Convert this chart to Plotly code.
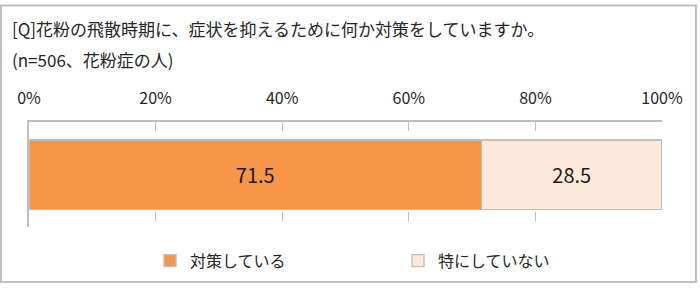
import plotly.graph_objects as go

categories = [""]
series_names = ["対策している", "特にしていない"]
series_values = [[71.5], [28.5]]
series_colors = ["#F79646", "#FDE9D9"]
tick_vals = [0, 20, 40, 60, 80, 100]
tick_text = ["0%", "20%", "40%", "60%", "80%", "100%"]
title_lines = ["[Q]花粉の飛散時期に、症状を抑えるために何か対策をしていますか。", "(n=506、花粉症の人)"]

FONT = "Noto Sans CJK JP, Meiryo, sans-serif"
W, H = 700, 290
L, R, T, B = 29, 38, 122, 59
pw, ph = W - L - R, H - T - B

fig = go.Figure()
for name, vals, col in zip(series_names, series_values, series_colors):
    fig.add_trace(go.Bar(
        y=categories, x=vals, name=name, orientation="h",
        marker=dict(color=col, line=dict(color="#BFBFBF", width=1.3)),
        text=[f"{v:.1f}" for v in vals], textposition="inside",
        insidetextanchor="middle",
        textfont=dict(family=FONT, size=20, color="#1a1a1a"),
        width=0.66,
    ))

fig.update_layout(
    width=W, height=H, barmode="stack",
    margin=dict(l=L, r=R, t=T, b=B, pad=0),
    paper_bgcolor="white", plot_bgcolor="white",
    font=dict(family=FONT, color="#262626"),
    showlegend=True,
    legend=dict(orientation="h", x=(150 - L) / pw, xanchor="left",
                y=-(266 - T - ph) / ph, yanchor="middle",
                bgcolor="rgba(0,0,0,0)",
                font=dict(family=FONT, size=16, color="#262626"),
                entrywidth=203, entrywidthmode="pixels",
                itemwidth=30, traceorder="normal"),
    xaxis=dict(range=[0, 100], side="top", tickvals=tick_vals, ticktext=tick_text,
               showgrid=True, gridcolor="#BFBFBF", griddash="dash", gridwidth=1,
               showline=True, linecolor="#BFBFBF", linewidth=1.5,
               zeroline=False, ticks="", ticklabelstandoff=10,
               tickfont=dict(family=FONT, size=16, color="#262626"),
               fixedrange=True),
    yaxis=dict(range=[-0.5, 0.5], showline=True, linecolor="#BFBFBF", linewidth=1.5,
               showgrid=False, zeroline=False, showticklabels=False, fixedrange=True),
)

# title as annotations (two lines)
for i, line in enumerate(title_lines):
    fig.add_annotation(text=line, xref="paper", yref="paper",
                       x=(10 - L) / pw, xanchor="left",
                       y=1 + (T - [25, 57][i]) / ph, yanchor="middle",
                       showarrow=False,
                       font=dict(family=FONT, size=17, color="#262626"))

# outer frame
fig.add_shape(type="rect", xref="paper", yref="paper",
              x0=(1 - L) / pw, x1=(696 - L) / pw,
              y0=-(288 - T - ph) / ph, y1=1 + (T - 1) / ph,
              line=dict(color="#BFBFBF", width=2), layer="below")

fig.write_html("out.html")
